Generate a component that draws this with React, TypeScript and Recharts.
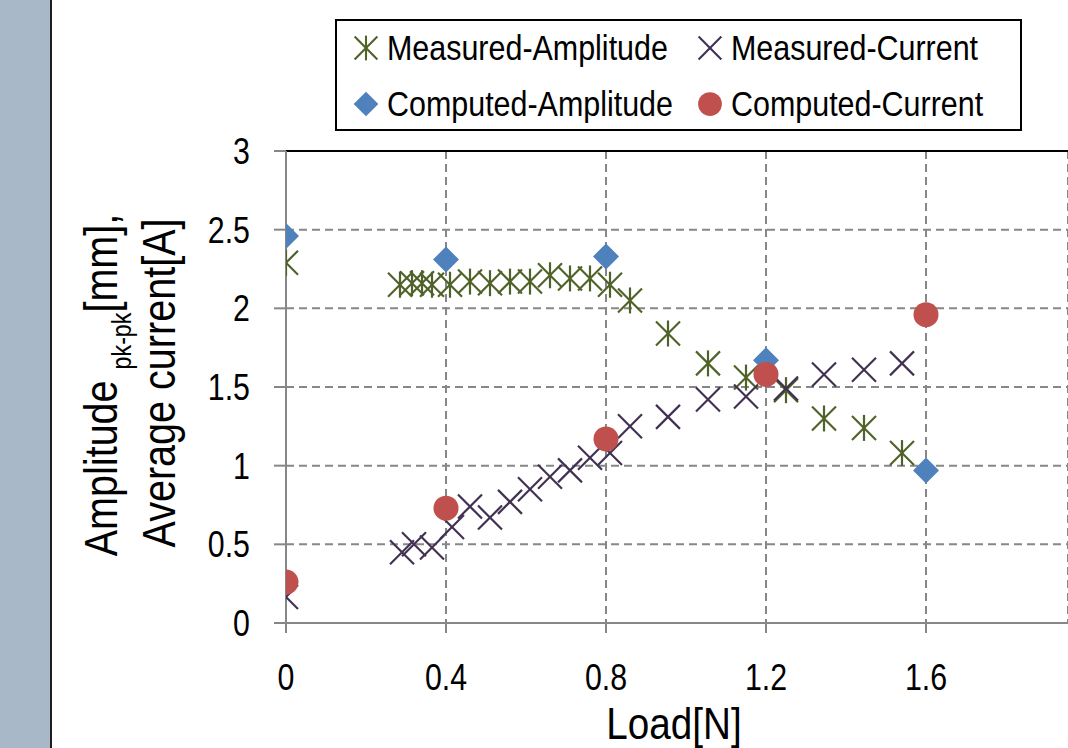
import { ScatterChart, Scatter, XAxis, YAxis, CartesianGrid, ReferenceLine, Legend } from 'recharts';

const FONT = "'Liberation Sans', Arial, sans-serif";

// Measured amplitude (asterisk markers)
const loadAmp = [0, 0.285, 0.315, 0.34, 0.365, 0.41, 0.46, 0.51, 0.56, 0.61, 0.66, 0.71, 0.76, 0.81, 0.86, 0.955, 1.055, 1.15, 1.25, 1.345, 1.445, 1.54];
const measuredAmplitude = [2.29, 2.15, 2.16, 2.16, 2.15, 2.15, 2.17, 2.16, 2.17, 2.17, 2.21, 2.19, 2.19, 2.15, 2.05, 1.84, 1.65, 1.56, 1.48, 1.3, 1.24, 1.08];

// Measured current (x markers)
const loadCur = [0, 0.29, 0.32, 0.365, 0.415, 0.46, 0.51, 0.56, 0.61, 0.66, 0.71, 0.76, 0.81, 0.86, 0.955, 1.055, 1.15, 1.25, 1.345, 1.445, 1.54];
const measuredCurrent = [0.165, 0.45, 0.5, 0.48, 0.61, 0.74, 0.67, 0.77, 0.85, 0.93, 0.97, 1.05, 1.08, 1.25, 1.31, 1.42, 1.44, 1.49, 1.58, 1.61, 1.65];

// Computed values
const loadComputed = [0, 0.4, 0.8, 1.2, 1.6];
const computedAmplitude = [2.46, 2.31, 2.33, 1.67, 0.97];
const computedCurrent = [0.26, 0.73, 1.17, 1.58, 1.96];

const xTicks = [0, 0.4, 0.8, 1.2, 1.6];
const yTicks = [0, 0.5, 1, 1.5, 2, 2.5, 3];

const COLORS = {
  measAmp: '#4F6228',
  measCur: '#403152',
  compAmp: '#4F81BD',
  compCur: '#C0504D',
};

// the source font is a narrow sans, so squeeze text horizontally
const NARROW = 0.82;

const toPoints = (xs: number[], ys: number[]) => xs.map((x, i) => ({ x, y: ys[i] }));

const Asterisk = ({ cx, cy, color }: { cx: number; cy: number; color: string }) => (
  <g stroke={color} strokeWidth={2.2}>
    <line x1={cx - 12} y1={cy - 12} x2={cx + 12} y2={cy + 12} />
    <line x1={cx - 12} y1={cy + 12} x2={cx + 12} y2={cy - 12} />
    <line x1={cx} y1={cy - 13} x2={cx} y2={cy + 13} />
  </g>
);

const Cross = ({ cx, cy, color }: { cx: number; cy: number; color: string }) => (
  <g stroke={color} strokeWidth={2.2}>
    <line x1={cx - 12} y1={cy - 12} x2={cx + 12} y2={cy + 12} />
    <line x1={cx - 12} y1={cy + 12} x2={cx + 12} y2={cy - 12} />
  </g>
);

const Diamond = ({ cx, cy, color }: { cx: number; cy: number; color: string }) => (
  <polygon points={`${cx},${cy - 13} ${cx + 13},${cy} ${cx},${cy + 13} ${cx - 13},${cy}`} fill={color} />
);

const Dot = ({ cx, cy, color }: { cx: number; cy: number; color: string }) => (
  <circle cx={cx} cy={cy} r={12.5} fill={color} />
);

const SERIES = [
  { name: 'Measured-Amplitude', data: toPoints(loadAmp, measuredAmplitude), color: COLORS.measAmp, Marker: Asterisk },
  { name: 'Measured-Current', data: toPoints(loadCur, measuredCurrent), color: COLORS.measCur, Marker: Cross },
  { name: 'Computed-Amplitude', data: toPoints(loadComputed, computedAmplitude), color: COLORS.compAmp, Marker: Diamond },
  { name: 'Computed-Current', data: toPoints(loadComputed, computedCurrent), color: COLORS.compCur, Marker: Dot },
];

const LegendBox = () => (
  <div style={{ width: 683, height: 108, border: '2px solid #000', background: '#fff' }}>
    <svg width={683} height={108}>
      {SERIES.map((s, i) => {
        const col = i % 2;
        const row = Math.floor(i / 2);
        const mx = col === 0 ? 29 : 373;
        const my = row === 0 ? 27 : 83;
        const Marker = s.Marker;
        return (
          <g key={s.name}>
            <g transform={`translate(${mx},${my}) scale(0.95)`}>
              <Marker cx={0} cy={0} color={s.color} />
            </g>
            <text
              transform={`translate(${mx + 21},${my + 12}) scale(0.87,1)`}
              fontSize={35}
              fontFamily={FONT}
              fill="#000"
            >
              {s.name}
            </text>
          </g>
        );
      })}
    </svg>
  </div>
);

const XTick = ({ x, y, payload }: any) => (
  <g transform={`translate(${x},${y}) scale(${NARROW},1)`}>
    <text x={0} y={0} dy="0.71em" textAnchor="middle" fontSize={37} fontFamily={FONT} fill="#000">
      {payload.value}
    </text>
  </g>
);

const YTick = ({ x, y, payload }: any) => (
  <g transform={`translate(${x},${y}) scale(${NARROW},1)`}>
    <text x={0} y={0} dy="0.355em" textAnchor="end" fontSize={37} fontFamily={FONT} fill="#000">
      {payload.value}
    </text>
  </g>
);

const YTitle = () => (
  <g fontFamily={FONT} fill="#000">
    <text transform="translate(117,385) rotate(-90) scale(0.86,1)" textAnchor="middle" fontSize={46}>
      Amplitude <tspan fontSize={27} dy={14}>pk-pk</tspan>
      <tspan dy={-14}>[mm],</tspan>
    </text>
    <text transform="translate(175,383) rotate(-90) scale(0.86,1)" textAnchor="middle" fontSize={46}>
      Average current[A]
    </text>
  </g>
);

const XTitle = () => (
  <text transform="translate(674,739) scale(0.86,1)" textAnchor="middle" fontSize={45} fontFamily={FONT} fill="#000">
    Load[N]
  </text>
);

export default function App() {
  return (
    <div style={{ position: 'absolute', left: 0, top: 0, width: 1068, height: 748, background: '#fff', overflow: 'hidden' }}>
      <ScatterChart
        width={1068}
        height={748}
        margin={{ top: 151, right: 0, left: 186, bottom: 65 }}
      >
        <CartesianGrid strokeDasharray="8 5" stroke="#878787" strokeWidth={2} />
        <XAxis
          type="number"
          dataKey="x"
          domain={[0, 1.955]}
          ticks={xTicks}
          allowDataOverflow
          height={60}
          stroke="#878787"
          strokeWidth={2}
          tickSize={10}
          tickMargin={31}
          tick={<XTick />}
          label={<XTitle />}
        />
        <YAxis
          type="number"
          dataKey="y"
          domain={[0, 3]}
          ticks={yTicks}
          width={100}
          stroke="#878787"
          strokeWidth={2}
          tickSize={12}
          tickMargin={24}
          tick={<YTick />}
          label={<YTitle />}
        />
        <ReferenceLine y={3} stroke="#000" strokeWidth={2} />
        {SERIES.map(s => (
          <Scatter
            key={s.name}
            name={s.name}
            data={s.data}
            fill={s.color}
            isAnimationActive={false}
            shape={(p: any) => <s.Marker cx={p.cx} cy={p.cy} color={s.color} />}
          />
        ))}
        <Legend
          layout="horizontal"
          verticalAlign="middle"
          align="center"
          content={<LegendBox />}
          wrapperStyle={{ position: 'absolute', left: 335, top: 19, width: 687, height: 112 }}
        />
      </ScatterChart>
      <div style={{ position: 'absolute', left: 0, top: 0, width: 50, height: 748, background: '#A9B8C8', borderRight: '2.5px solid #1E1E1E' }} />
    </div>
  );
}
